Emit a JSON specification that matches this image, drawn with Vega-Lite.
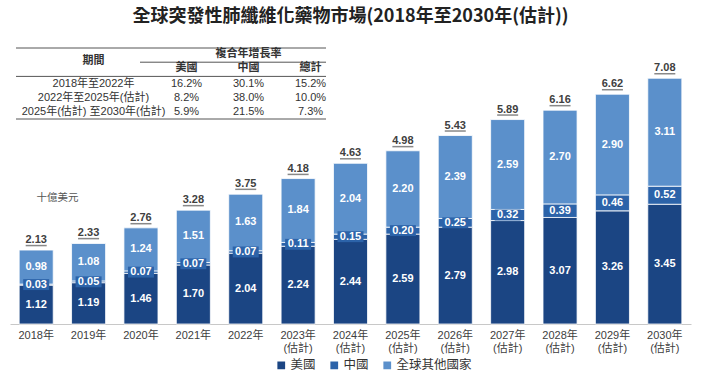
{
  "$schema": "https://vega.github.io/schema/vega-lite/v6.json",
  "autosize": {"type": "none"},
  "width": 681,
  "height": 294,
  "padding": {"left": 10, "top": 30, "right": 12, "bottom": 51},
  "background": "white",
  "title": {"text": "全球突發性肺纖維化藥物市場(2018年至2030年(估計))", "fontSize": 18, "font": "Noto Sans CJK TC", "fontWeight": "bold", "color": "#222222", "anchor": "middle", "offset": 8, "baseline": "alphabetic", "dy": 18},
  "config": {"view": {"stroke": null}, "font": "Liberation Sans, Noto Sans CJK TC"},
  "datasets": {
    "segments": [
      {"year": "2018", "region": "美國", "order": 1, "value": 1.12},
      {"year": "2018", "region": "中國", "order": 2, "value": 0.03},
      {"year": "2018", "region": "全球其他國家", "order": 3, "value": 0.98},
      {"year": "2019", "region": "美國", "order": 1, "value": 1.19},
      {"year": "2019", "region": "中國", "order": 2, "value": 0.05},
      {"year": "2019", "region": "全球其他國家", "order": 3, "value": 1.08},
      {"year": "2020", "region": "美國", "order": 1, "value": 1.46},
      {"year": "2020", "region": "中國", "order": 2, "value": 0.07},
      {"year": "2020", "region": "全球其他國家", "order": 3, "value": 1.24},
      {"year": "2021", "region": "美國", "order": 1, "value": 1.70},
      {"year": "2021", "region": "中國", "order": 2, "value": 0.07},
      {"year": "2021", "region": "全球其他國家", "order": 3, "value": 1.51},
      {"year": "2022", "region": "美國", "order": 1, "value": 2.04},
      {"year": "2022", "region": "中國", "order": 2, "value": 0.07},
      {"year": "2022", "region": "全球其他國家", "order": 3, "value": 1.63},
      {"year": "2023", "region": "美國", "order": 1, "value": 2.24},
      {"year": "2023", "region": "中國", "order": 2, "value": 0.11},
      {"year": "2023", "region": "全球其他國家", "order": 3, "value": 1.84},
      {"year": "2024", "region": "美國", "order": 1, "value": 2.44},
      {"year": "2024", "region": "中國", "order": 2, "value": 0.15},
      {"year": "2024", "region": "全球其他國家", "order": 3, "value": 2.04},
      {"year": "2025", "region": "美國", "order": 1, "value": 2.59},
      {"year": "2025", "region": "中國", "order": 2, "value": 0.20},
      {"year": "2025", "region": "全球其他國家", "order": 3, "value": 2.20},
      {"year": "2026", "region": "美國", "order": 1, "value": 2.79},
      {"year": "2026", "region": "中國", "order": 2, "value": 0.25},
      {"year": "2026", "region": "全球其他國家", "order": 3, "value": 2.39},
      {"year": "2027", "region": "美國", "order": 1, "value": 2.98},
      {"year": "2027", "region": "中國", "order": 2, "value": 0.32},
      {"year": "2027", "region": "全球其他國家", "order": 3, "value": 2.59},
      {"year": "2028", "region": "美國", "order": 1, "value": 3.07},
      {"year": "2028", "region": "中國", "order": 2, "value": 0.39},
      {"year": "2028", "region": "全球其他國家", "order": 3, "value": 2.70},
      {"year": "2029", "region": "美國", "order": 1, "value": 3.26},
      {"year": "2029", "region": "中國", "order": 2, "value": 0.46},
      {"year": "2029", "region": "全球其他國家", "order": 3, "value": 2.90},
      {"year": "2030", "region": "美國", "order": 1, "value": 3.45},
      {"year": "2030", "region": "中國", "order": 2, "value": 0.52},
      {"year": "2030", "region": "全球其他國家", "order": 3, "value": 3.11}
    ],
    "totals": [
      {"year": "2018", "total": 2.13},
      {"year": "2019", "total": 2.33},
      {"year": "2020", "total": 2.76},
      {"year": "2021", "total": 3.28},
      {"year": "2022", "total": 3.75},
      {"year": "2023", "total": 4.18},
      {"year": "2024", "total": 4.63},
      {"year": "2025", "total": 4.98},
      {"year": "2026", "total": 5.43},
      {"year": "2027", "total": 5.89},
      {"year": "2028", "total": 6.16},
      {"year": "2029", "total": 6.62},
      {"year": "2030", "total": 7.08}
    ],
    "tableLines": [
      {"line": "top", "from": "L", "to": "R"},
      {"line": "mid", "from": "A", "to": "R"},
      {"line": "hdr", "from": "L", "to": "R"},
      {"line": "bot", "from": "L", "to": "R"}
    ],
    "tableHead": [
      {"row": "h1", "col": "中國", "text": "複合年增長率"},
      {"row": "mid", "col": "期間", "text": "期間"},
      {"row": "h2", "col": "美國", "text": "美國"},
      {"row": "h2", "col": "中國", "text": "中國"},
      {"row": "h2", "col": "總計", "text": "總計"}
    ],
    "tableBody": [
      {"row": "r1", "col": "期間", "text": "2018年至2022年"},
      {"row": "r1", "col": "美國", "text": "16.2%"},
      {"row": "r1", "col": "中國", "text": "30.1%"},
      {"row": "r1", "col": "總計", "text": "15.2%"},
      {"row": "r2", "col": "期間", "text": "2022年至2025年(估計)"},
      {"row": "r2", "col": "美國", "text": "8.2%"},
      {"row": "r2", "col": "中國", "text": "38.0%"},
      {"row": "r2", "col": "總計", "text": "10.0%"},
      {"row": "r3", "col": "期間", "text": "2025年(估計) 至2030年(估計)"},
      {"row": "r3", "col": "美國", "text": "5.9%"},
      {"row": "r3", "col": "中國", "text": "21.5%"},
      {"row": "r3", "col": "總計", "text": "7.3%"}
    ]
  },
  "layer": [
    {
      "encoding": {
        "x": {
          "field": "year", "type": "nominal",
          "scale": {"type": "band", "paddingInner": 0.35, "paddingOuter": 0.175},
          "axis": {"title": null, "labelAngle": 0, "ticks": false, "domainColor": "#c8c8c8", "domainWidth": 1, "labelFontSize": 11, "labelColor": "#404040", "labelPadding": 5, "labelLineHeight": 13,
                   "labelExpr": "datum.value >= '2023' ? [datum.value + '年', '(估計)'] : datum.value + '年'"}
        }
      },
      "layer": [
        {
          "data": {"name": "segments"},
          "transform": [{"stack": "value", "groupby": ["year"], "sort": [{"field": "order", "order": "ascending"}], "as": ["v0", "v1"]}],
          "mark": {"type": "bar", "stroke": "white", "strokeWidth": 0.8},
          "encoding": {
            "y": {"field": "v0", "type": "quantitative", "scale": {"domain": [0, 8.47], "nice": false, "zero": true},
                  "axis": {"labels": false, "ticks": false, "domain": false, "grid": false, "title": "十億美元", "titleAngle": 0, "titleX": 47, "titleY": 167, "titleAlign": "center", "titleBaseline": "middle", "titleFontSize": 10.5, "titleFontWeight": "normal", "titleColor": "#555555", "titleFont": "Noto Sans CJK TC"}},
            "y2": {"field": "v1"},
            "color": {
              "field": "region", "type": "nominal",
              "scale": {"domain": ["美國", "中國", "全球其他國家"], "range": ["#1B4583", "#2C63A9", "#5B90CB"]},
              "legend": {"orient": "none", "legendX": 265, "legendY": 329, "direction": "horizontal", "title": null, "symbolType": "square", "symbolSize": 60, "symbolStrokeWidth": 0, "labelFontSize": 12.5, "labelFont": "Noto Sans CJK TC", "labelColor": "#333333", "columnPadding": 12, "labelOffset": 3}
            }
          }
        },
        {
          "data": {"name": "segments"},
          "transform": [
            {"stack": "value", "groupby": ["year"], "sort": [{"field": "order", "order": "ascending"}], "as": ["v0", "v1"]},
            {"fold": ["v0", "v1"], "as": ["edgeName", "edge"]},
            {"aggregate": [{"op": "mean", "field": "edge", "as": "mid"}], "groupby": ["year", "region", "value"]}
          ],
          "layer": [
            {
              "transform": [{"filter": "datum.region === '中國'"}],
              "mark": {"type": "point", "filled": true, "color": "#2C63A9", "opacity": 1, "shape": "M-1,-0.42H1V0.42H-1Z", "size": 676, "strokeWidth": 0},
              "encoding": {
                "y": {"field": "mid", "type": "quantitative", "scale": {"domain": [0, 8.47], "nice": false}}
              }
            },
            {
              "mark": {"type": "text", "color": "white", "fontWeight": "bold", "fontSize": 11, "baseline": "middle", "align": "center"},
              "encoding": {
                "y": {"field": "mid", "type": "quantitative", "scale": {"domain": [0, 8.47], "nice": false}},
                "text": {"field": "value", "type": "quantitative", "format": ".2f"}
              }
            }
          ]
        },
        {
          "data": {"name": "totals"},
          "mark": {"type": "text", "color": "#404040", "fontWeight": "bold", "fontSize": 11, "baseline": "alphabetic", "align": "center", "dy": -7},
          "encoding": {
            "y": {"field": "total", "type": "quantitative", "scale": {"domain": [0, 8.47], "nice": false}},
            "text": {"field": "total", "type": "quantitative", "format": ".2f"}
          }
        },
        {
          "data": {"name": "totals"},
          "mark": {"type": "tick", "color": "#555555", "size": 21, "thickness": 1.5, "yOffset": -4.5},
          "encoding": {
            "y": {"field": "total", "type": "quantitative", "scale": {"domain": [0, 8.47], "nice": false}}
          }
        }
      ]
    },
    {
      "layer": [
        {
          "data": {"name": "tableLines"},
          "mark": {"type": "rule", "color": "#555555", "strokeWidth": 1},
          "encoding": {
            "x": {"field": "from", "type": "nominal", "scale": {"type": "point", "padding": 0, "range": [6, 316], "domain": ["L", "x1", "x2", "x3", "x4", "期間", "x6", "x7", "A", "x9", "x10", "美國", "x12", "x13", "x14", "中國", "x16", "x17", "x18", "總計", "R"]}, "axis": null},
            "x2": {"field": "to"},
            "y": {"field": "line", "type": "nominal", "scale": {"type": "point", "padding": 0, "range": [18, 89], "domain": ["top", "h1", "mid", "h2", "hdr", "r1", "y1", "r2", "y2", "r3", "bot"]}, "axis": null}
          }
        },
        {
          "data": {"name": "tableHead"},
          "mark": {"type": "text", "fontWeight": "bold", "fontSize": 11, "font": "Noto Sans CJK TC", "color": "#333333", "baseline": "middle", "align": "center", "dy": -1.5},
          "encoding": {
            "x": {"field": "col", "type": "nominal", "scale": {"type": "point", "padding": 0, "range": [6, 316], "domain": ["L", "x1", "x2", "x3", "x4", "期間", "x6", "x7", "A", "x9", "x10", "美國", "x12", "x13", "x14", "中國", "x16", "x17", "x18", "總計", "R"]}, "axis": null},
            "y": {"field": "row", "type": "nominal", "scale": {"type": "point", "padding": 0, "range": [18, 89], "domain": ["top", "h1", "mid", "h2", "hdr", "r1", "y1", "r2", "y2", "r3", "bot"]}, "axis": null},
            "text": {"field": "text"}
          }
        },
        {
          "data": {"name": "tableBody"},
          "mark": {"type": "text", "fontSize": 11, "color": "#333333", "baseline": "middle", "align": "center"},
          "encoding": {
            "x": {"field": "col", "type": "nominal", "scale": {"type": "point", "padding": 0, "range": [6, 316], "domain": ["L", "x1", "x2", "x3", "x4", "期間", "x6", "x7", "A", "x9", "x10", "美國", "x12", "x13", "x14", "中國", "x16", "x17", "x18", "總計", "R"]}, "axis": null},
            "y": {"field": "row", "type": "nominal", "scale": {"type": "point", "padding": 0, "range": [18, 89], "domain": ["top", "h1", "mid", "h2", "hdr", "r1", "y1", "r2", "y2", "r3", "bot"]}, "axis": null},
            "text": {"field": "text"}
          }
        }
      ]
    }
  ],
  "resolve": {"scale": {"x": "independent", "y": "independent"}}
}
